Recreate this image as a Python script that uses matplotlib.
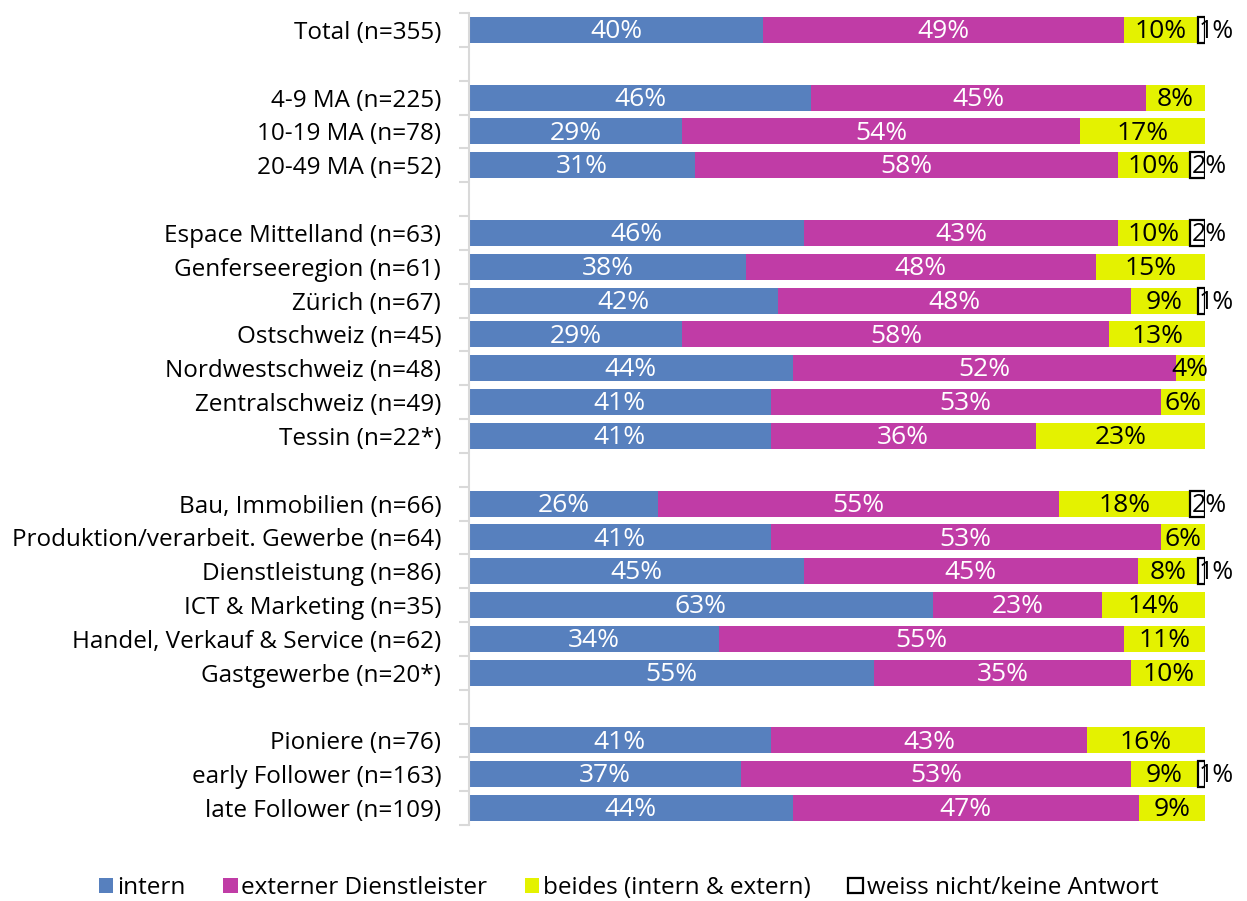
import numpy as np
import matplotlib.pyplot as plt

plt.rcParams['font.family'] = ['Open Sans', 'DejaVu Sans']

# Rows (None = empty spacer row between groups)
labels = ['Total (n=355)', None,
          '4-9 MA (n=225)', '10-19 MA (n=78)', '20-49 MA (n=52)', None,
          'Espace Mittelland (n=63)', 'Genferseeregion (n=61)', 'Zürich (n=67)',
          'Ostschweiz (n=45)', 'Nordwestschweiz (n=48)', 'Zentralschweiz (n=49)',
          'Tessin (n=22*)', None,
          'Bau, Immobilien (n=66)', 'Produktion/verarbeit. Gewerbe (n=64)',
          'Dienstleistung (n=86)', 'ICT & Marketing (n=35)',
          'Handel, Verkauf & Service (n=62)', 'Gastgewerbe (n=20*)', None,
          'Pioniere (n=76)', 'early Follower (n=163)', 'late Follower (n=109)']

intern   = [40, None, 46, 29, 31, None, 46, 38, 42, 29, 44, 41, 41, None,
            26, 41, 45, 63, 34, 55, None, 41, 37, 44]
extern   = [49, None, 45, 54, 58, None, 43, 48, 48, 58, 52, 53, 36, None,
            55, 53, 45, 23, 55, 35, None, 43, 53, 47]
beides   = [10, None, 8, 17, 10, None, 10, 15, 9, 13, 4, 6, 23, None,
            18, 6, 8, 14, 11, 10, None, 16, 9, 9]
weiss_nicht = [1, None, 0, 0, 2, None, 2, 0, 1, 0, 0, 0, 0, None,
               2, 0, 1, 0, 0, 0, None, 0, 1, 0]

series = ['intern', 'externer Dienstleister', 'beides (intern & extern)',
          'weiss nicht/keine Antwort']
colors = ['#5780BE', '#C03CA6', '#E4F200', 'white']
text_colors = ['white', 'white', 'black', 'black']

fig = plt.figure(figsize=(12.47, 9.01), dpi=100)
ax = fig.add_axes([469/1247, 1 - 825/901, (1205-469)/1247, (825-13)/901])

n = len(labels)
ypos = np.arange(n)
rows = [i for i in range(n) if labels[i] is not None]
data = np.array([[intern[i], extern[i], beides[i], weiss_nicht[i]] for i in rows], float)
shares = data / data.sum(axis=1, keepdims=True) * 100  # bars fill 100%
yr = ypos[rows]

left = np.zeros(len(rows))
for k in range(4):
    m = data[:, k] > 0
    if k == 3:
        ax.barh(yr[m], shares[m, k], left=left[m], height=0.77, color='white',
                edgecolor='black', linewidth=1.6, label=series[k])
    else:
        ax.barh(yr[m], shares[m, k], left=left[m], height=0.77,
                color=colors[k], linewidth=0, label=series[k])
    for j in np.where(m)[0]:
        if k == 3:
            ax.text(left[j] + 0.15, yr[j] + 0.05, f'{int(data[j, k])}%', ha='left',
                    va='center', color='black', fontsize=18)
        else:
            ax.text(left[j] + shares[j, k] / 2, yr[j] + 0.05, f'{int(data[j, k])}%',
                    ha='center', va='center', color=text_colors[k], fontsize=19)
    left += shares[:, k]

ax.set_xlim(0, 100)
ax.set_ylim(n - 0.5, -0.5)
ax.set_xticks([])
ax.set_yticks(np.arange(n + 1) - 0.5)
ax.set_yticklabels([])
ax.set_yticks(yr, minor=True)
ax.set_yticklabels([labels[i] for i in rows], minor=True, fontsize=17.5)
ax.tick_params(axis='y', which='major', length=7, width=1.5, color='#D9D9D9')
ax.tick_params(axis='y', which='minor', length=0, pad=20)
for s in ['top', 'right', 'bottom']:
    ax.spines[s].set_visible(False)
ax.spines['left'].set_color('#D9D9D9')
ax.spines['left'].set_linewidth(1.5)

handles, lbls = ax.get_legend_handles_labels()
fig.legend(handles, lbls, loc='center', bbox_to_anchor=(0.504, 1 - 888/901), ncol=4,
           frameon=False, fontsize=17.5, handlelength=0.6, handleheight=0.6,
           handletextpad=0.15, columnspacing=1.55)

fig.savefig('out.png', dpi=100)
